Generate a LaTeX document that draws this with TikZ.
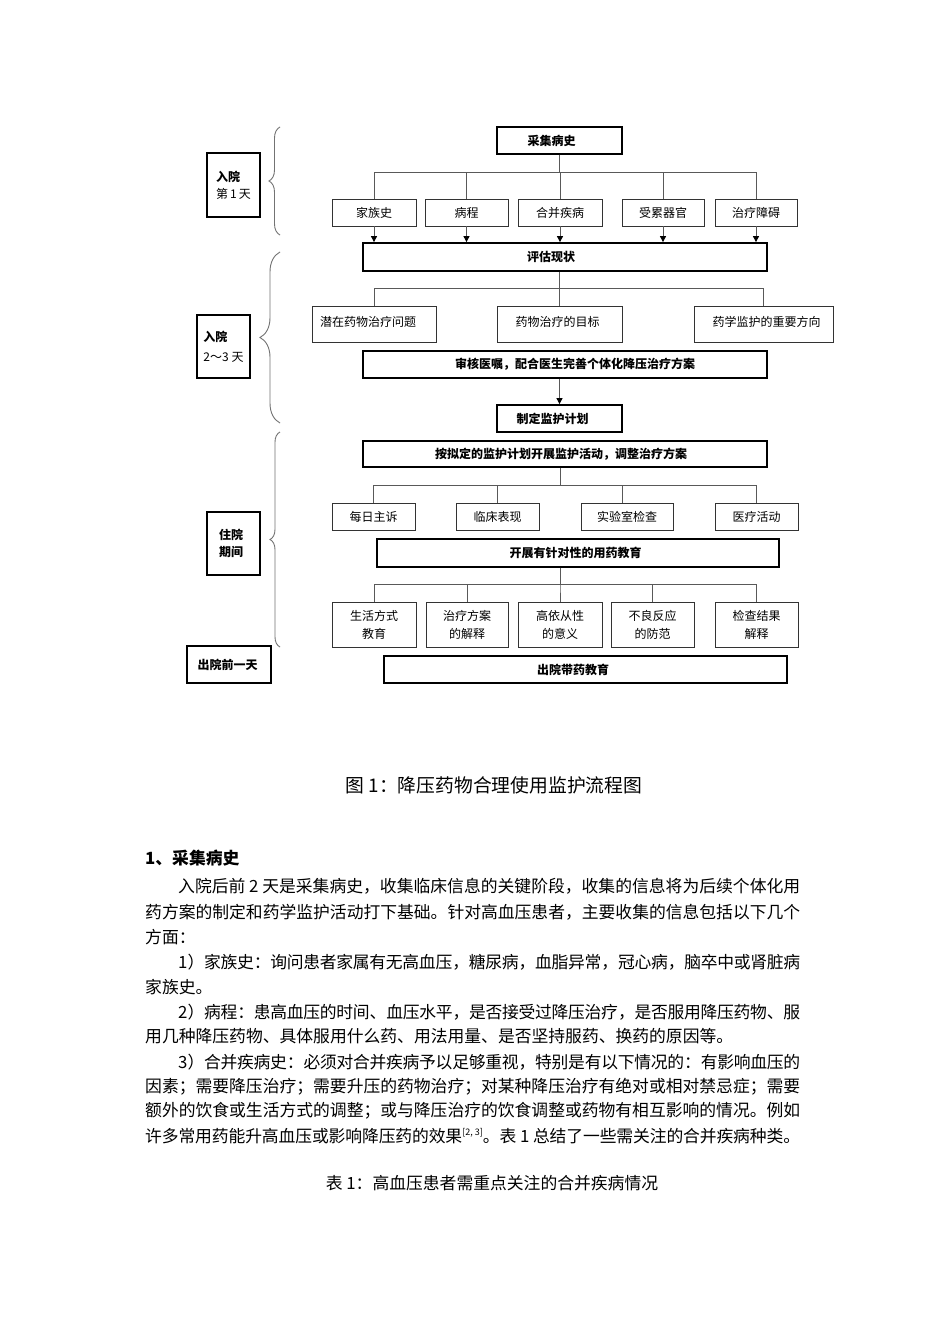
\documentclass[tikz,border=0pt]{standalone}
\usepackage{fontspec}
\setmainfont{Noto Sans CJK SC}
\usetikzlibrary{arrows.meta,decorations.pathreplacing}
\XeTeXlinebreaklocale "zh"
\XeTeXlinebreakskip=0pt plus 3pt minus 2pt
\newcommand\tshift[2]{\hspace*{#1}\hspace*{#1}#2}
\newcommand\jline[2]{\parbox{#1}{\tolerance=10000\parfillskip=0pt\relax #2}}
\begin{document}
\begin{tikzpicture}[x=1pt,y=-1pt,
  sbox/.style={draw=black!80, line width=0.9pt, fill=white, inner sep=0pt,
    font=\fontsize{12}{18}\selectfont, align=center},
  tbox/.style={draw=black, line width=1.8pt, fill=white, inner sep=0pt,
    font=\fontsize{12}{14}\selectfont\bfseries},
  lbox/.style={draw=black, line width=1.8pt, fill=white, inner sep=0pt,
    font=\fontsize{12}{17}\selectfont, align=left},
  conn/.style={draw=black!65, line width=0.9pt},
  arr/.style={conn, -{Triangle[length=6pt,width=6pt,color=black]}},
  curly/.style={draw=black!55, line width=0.9pt, decorate},
  body/.style={anchor=west, inner sep=0pt, font=\fontsize{16.8}{20}\selectfont}
]
\fill[white] (0,0) rectangle (950,1344);
\useasboundingbox (0,0) rectangle (950,1344);

% ---------- left stage labels ----------
\node[lbox, minimum width=53pt, minimum height=64pt] (d1) at (233.5,185) {{\bfseries 入院}\\第\,1\,天};
\node[lbox, minimum width=53pt, minimum height=63pt, font=\fontsize{12}{20}\selectfont] (d23) at (223.5,346.5) {{\bfseries 入院}\\2～3 天};
\node[lbox, minimum width=53pt, minimum height=63pt, font=\fontsize{12}{17}\selectfont\bfseries] (stay) at (233.5,543.5) {\tshift{-2.5pt}{住院}\\\tshift{-2.5pt}{期间}};
\node[lbox, minimum width=84pt, minimum height=37pt, font=\fontsize{12}{14}\selectfont\bfseries] (dis) at (229,664.5) {\tshift{-1.5pt}{\raisebox{-4pt}{出院前一天}}};

% ---------- braces ----------
\draw[curly, decoration={brace, amplitude=11pt}] (280,235) -- (280,127);
\draw[curly, decoration={brace, amplitude=20pt}] (280,423) -- (280,252);
\draw[curly, decoration={brace, amplitude=10pt}] (280,647) -- (280,432);

% ---------- section 1 ----------
\node[tbox, minimum width=125pt, minimum height=27pt] (collect) at (559.5,140.5) {\tshift{-8pt}{采集病史}};
\node[sbox, minimum width=84pt, minimum height=27pt] (fam) at (374,212.5) {家族史};
\node[sbox, minimum width=83pt, minimum height=27pt] (course) at (466.5,212.5) {病程};
\node[sbox, minimum width=84pt, minimum height=27pt] (comor) at (560,212.5) {合并疾病};
\node[sbox, minimum width=82pt, minimum height=27pt] (organ) at (663,212.5) {受累器官};
\node[sbox, minimum width=82pt, minimum height=27pt] (barrier) at (756,212.5) {治疗障碍};
\node[tbox, minimum width=404pt, minimum height=28pt] (eval) at (565,257) {\tshift{-14pt}{评估现状}};

\foreach \c in {fam,course,comor,organ,barrier}{
  \draw[conn] (collect.south) -- (collect.south |- 0,172) -| (\c.north);
  \draw[arr] (\c.south) -- (\c.south |- eval.north);
}

% ---------- section 2 ----------
\node[sbox, minimum width=124pt, minimum height=36pt] (pot) at (374,324) {\tshift{-6pt}{\raisebox{5pt}{潜在药物治疗问题}}};
\node[sbox, minimum width=125pt, minimum height=36pt] (goal) at (559.5,324) {\tshift{-2pt}{\raisebox{5pt}{药物治疗的目标}}};
\node[sbox, minimum width=139pt, minimum height=36pt] (dir) at (763.5,324) {\tshift{3pt}{\raisebox{5pt}{药学监护的重要方向}}};
\foreach \c in {pot,goal,dir}{
  \draw[conn] (goal.north |- eval.south) -- (goal.north |- 0,288) -| (\c.north);
}
\node[tbox, minimum width=404pt, minimum height=27pt] (review) at (565,364.5) {\tshift{10pt}{审核医嘱，配合医生完善个体化降压治疗方案}};
\node[tbox, minimum width=125pt, minimum height=27pt] (plan) at (559.5,418.5) {\tshift{-7pt}{制定监护计划}};
\draw[arr] (plan.north |- review.south) -- (plan.north);

% ---------- section 3 ----------
\node[tbox, minimum width=404pt, minimum height=26pt] (monitor) at (565,454) {\tshift{-4pt}{按拟定的监护计划开展监护活动，调整治疗方案}};
\node[sbox, minimum width=83pt, minimum height=27pt] (daily) at (373.5,516.5) {每日主诉};
\node[sbox, minimum width=83pt, minimum height=27pt] (clin) at (497.5,516.5) {临床表现};
\node[sbox, minimum width=92pt, minimum height=27pt] (lab) at (627,516.5) {实验室检查};
\node[sbox, minimum width=83pt, minimum height=27pt] (med) at (756.5,516.5) {医疗活动};
\coordinate (mtop) at ([xshift=-5pt]monitor.south);
\foreach \c in {daily,clin,med}{
  \draw[conn] (mtop) -- (mtop |- 0,485) -| (\c.north);
}
\draw[conn] (mtop) -- (mtop |- 0,485) -| ([xshift=-5pt]lab.north);

\node[tbox, minimum width=402pt, minimum height=28pt] (edu) at (578,553) {\tshift{-2.5pt}{开展有针对性的用药教育}};
\node[sbox, minimum width=84pt, minimum height=45pt] (life) at (374,624.5) {生活方式\\教育};
\node[sbox, minimum width=82pt, minimum height=45pt] (expl) at (467,624.5) {治疗方案\\的解释};
\node[sbox, minimum width=84pt, minimum height=45pt] (adh) at (560,624.5) {高依从性\\的意义};
\node[sbox, minimum width=83pt, minimum height=45pt] (adr) at (652.5,624.5) {不良反应\\的防范};
\node[sbox, minimum width=83pt, minimum height=45pt] (check) at (756.5,624.5) {检查结果\\解释};
\foreach \c in {life,expl,adh,adr,check}{
  \draw[conn] (adh.north |- edu.south) -- (adh.north |- 0,584) -| (\c.north);
}
\node[tbox, minimum width=403pt, minimum height=27pt] (leave) at (585.5,669.5) {\tshift{-12.5pt}{出院带药教育}};

% ---------- text below ----------
\node[inner sep=0pt, font=\fontsize{18.8}{20}\selectfont] (cap) at (494,785) {图 1：降压药物合理使用监护流程图};
\node[body, font=\fontsize{16.8}{20}\selectfont\bfseries] (h1) at (145,858) {1、采集病史};
\node[body] (l1) at (178,886) {\jline{622pt}{入院后前 2 天是采集病史，收集临床信息的关键阶段，收集的信息将为后续个体化用}};
\node[body] (l2) at (145,912) {\jline{655pt}{药方案的制定和药学监护活动打下基础。针对高血压患者，主要收集的信息包括以下几个}};
\node[body] (l3) at (145,937) {方面：};
\node[body] (l4) at (178,962) {\jline{622pt}{1）家族史：询问患者家属有无高血压，糖尿病，血脂异常，冠心病，脑卒中或肾脏病}};
\node[body] (l5) at (145,987) {家族史。};
\node[body] (l6) at (178,1012) {\jline{622pt}{2）病程：患高血压的时间、血压水平，是否接受过降压治疗，是否服用降压药物、服}};
\node[body] (l7) at (145,1036) {用几种降压药物、具体服用什么药、用法用量、是否坚持服药、换药的原因等。};
\node[body] (l8) at (178,1062) {\jline{622pt}{3）合并疾病史：必须对合并疾病予以足够重视，特别是有以下情况的：有影响血压的}};
\node[body] (l9) at (145,1087) {\jline{655pt}{因素；需要降压治疗；需要升压的药物治疗；对某种降压治疗有绝对或相对禁忌症；需要}};
\node[body] (l10) at (145,1111) {\jline{655pt}{额外的饮食或生活方式的调整；或与降压治疗的饮食调整或药物有相互影响的情况。例如}};
\node[body] (l11) at (145,1136) {\jline{655pt}{许多常用药能升高血压或影响降压药的效果\raisebox{7pt}{\fontsize{9}{9}\selectfont [2, 3]}。表 1 总结了一些需关注的合并疾病种类。}};
\node[inner sep=0pt, font=\fontsize{16.8}{20}\selectfont] (tcap) at (492,1183) {表 1：高血压患者需重点关注的合并疾病情况};
\end{tikzpicture}
\end{document}
